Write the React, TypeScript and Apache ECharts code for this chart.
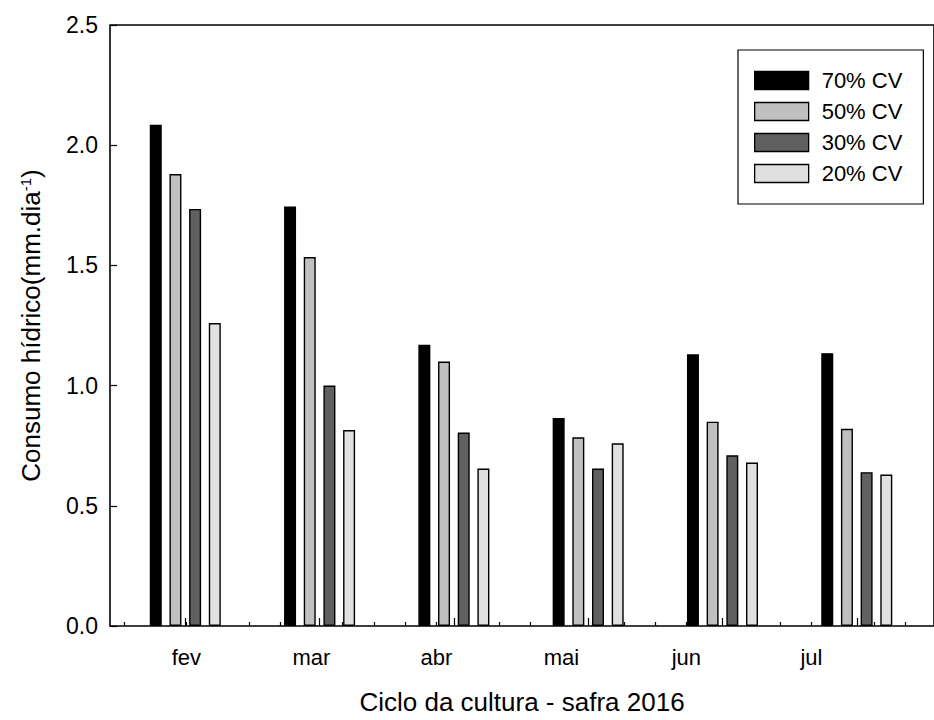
import React, { useEffect, useRef } from "react";
import * as echarts from "echarts";

const months = ["fev", "mar", "abr", "mai", "jun", "jul"];
const seriesNames = ["70% CV", "50% CV", "30% CV", "20% CV"];
const cv70 = [2.085, 1.745, 1.17, 0.865, 1.13, 1.135];
const cv50 = [1.88, 1.535, 1.1, 0.785, 0.85, 0.82];
const cv30 = [1.735, 1.0, 0.805, 0.655, 0.71, 0.64];
const cv20 = [1.26, 0.815, 0.655, 0.76, 0.68, 0.63];
const seriesValues = [cv70, cv50, cv30, cv20];
const colors = ["#000000", "#c0c0c0", "#606060", "#e0e0e0"];

// x axis geometry (axis units: bar groups at 1..6)
const X_MIN = 0.4395;
const X_MAX = 6.575;
const TICK0 = 0.5428;
const TICK_STEP = 0.2327;
const minorTicks: number[] = [];
for (let k = 0; k < 30; k++) {
  const v = TICK0 + k * TICK_STEP;
  if (v <= X_MAX) minorTicks.push(v);
}
const labelPositions = months.map((_, i) => TICK0 + (2 + 4 * i) * TICK_STEP);

const FONT = "'Liberation Sans', Arial, sans-serif";

export default function App() {
  const ref = useRef<HTMLDivElement>(null);
  useEffect(() => {
    if (!ref.current) return;
    const chart = echarts.init(ref.current, undefined, { renderer: "svg" });
    chart.setOption({
      animation: false,
      backgroundColor: "#ffffff",
      textStyle: { fontFamily: FONT },
      grid: {
        left: 110,
        top: 25,
        width: 832,
        height: 605.5,
        show: true,
        borderColor: "#000",
        borderWidth: 1.6,
        backgroundColor: "transparent",
      },
      legend: {
        orient: "vertical",
        left: 738,
        top: 50,
        itemWidth: 54,
        itemHeight: 18,
        itemGap: 9,
        padding: [19.5, 21, 19.5, 16],
        borderColor: "#000",
        borderWidth: 1.2,
        icon: "rect",
        itemStyle: { borderColor: "#000", borderWidth: 1.3 },
        textStyle: { fontSize: 22, color: "#000", fontFamily: FONT, padding: [0, 0, 0, 8] },
        data: seriesNames,
      },
      xAxis: [
        {
          type: "value",
          min: X_MIN,
          max: X_MAX,
          axisLine: { show: false },
          splitLine: { show: false },
          axisLabel: { show: false },
          axisTick: {
            show: true,
            inside: true,
            length: 8,
            customValues: months.map((_, i) => i + 1),
            lineStyle: { color: "#000", width: 1.2 },
          },
          name: "Ciclo da cultura - safra 2016",
          nameLocation: "middle",
          nameGap: 63,
          nameTextStyle: { fontSize: 26, color: "#000", fontFamily: FONT },
        },
        {
          type: "value",
          min: X_MIN,
          max: X_MAX,
          position: "bottom",
          axisLine: { show: false },
          splitLine: { show: false },
          axisTick: {
            show: true,
            inside: true,
            length: 4,
            customValues: minorTicks,
            lineStyle: { color: "#000", width: 1.2 },
          },
          axisLabel: {
            customValues: labelPositions,
            formatter: (v: number) => months[Math.round((v - TICK0) / TICK_STEP / 4 - 0.5)] ?? "",
            fontSize: 22,
            color: "#000",
            fontFamily: FONT,
            margin: 20,
          },
        },
      ],
      yAxis: {
        type: "value",
        min: 0,
        max: 2.5,
        interval: 0.5,
        axisLine: { show: false },
        splitLine: { show: false },
        axisTick: { show: true, inside: true, length: 7, lineStyle: { color: "#000", width: 1.2 } },
        axisLabel: {
          formatter: (v: number) => v.toFixed(1),
          fontSize: 23,
          color: "#000",
          fontFamily: FONT,
          margin: 12,
        },
        name: "{a|Consumo hídrico(mm.dia}{s|-1}{a|)}",
        nameLocation: "middle",
        nameGap: 66,
        nameRotate: 90,
        nameTextStyle: {
          fontFamily: FONT,
          color: "#000",
          rich: {
            a: { fontSize: 26, fontFamily: FONT, color: "#000" },
            s: { fontSize: 15, fontFamily: FONT, color: "#000", verticalAlign: "top" },
          },
        },
      },
      series: seriesNames.map((name, si) => ({
        type: "bar",
        name,
        xAxisIndex: 0,
        data: seriesValues[si].map((v, i) => [i + 1, v]),
        barWidth: 12,
        barGap: "64%",
        itemStyle: { color: colors[si], borderColor: "#000", borderWidth: 1.4 },
      })),
    });
    return () => chart.dispose();
  }, []);
  return (
    <div
      ref={ref}
      style={{ position: "absolute", left: 0, top: 0, width: 934, height: 720 }}
    />
  );
}
